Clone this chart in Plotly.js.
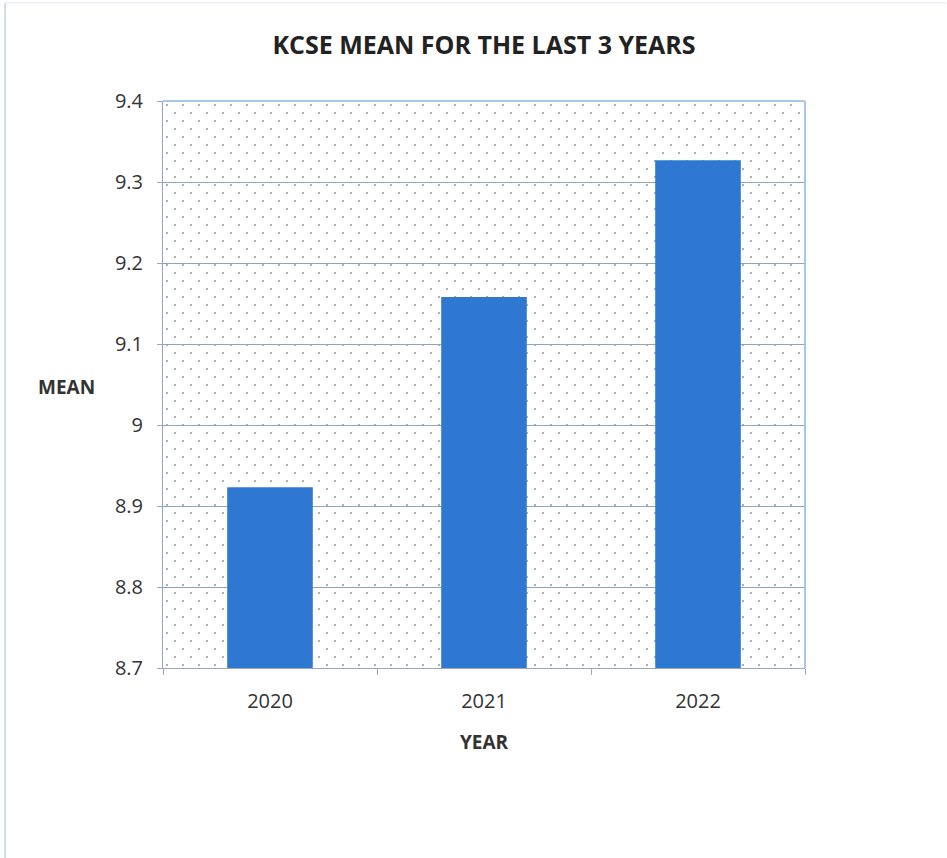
<!DOCTYPE html>
<html>
<head>
<meta charset="utf-8">
<script src="https://cdn.plot.ly/plotly-3.0.1.min.js"></script>
<style>
html,body{margin:0;padding:0;background:#fff;}
#chart{width:947px;height:858px;}
</style>
</head>
<body>
<div id="chart"></div>
<script>
const years = ['2020', '2021', '2022'];
const means = [8.923, 9.158, 9.327];
const yTicks = [8.7, 8.8, 8.9, 9.0, 9.1, 9.2, 9.3, 9.4];
const yTickText = ['8.7', '8.8', '8.9', '9', '9.1', '9.2', '9.3', '9.4'];

const patSvg = '<svg xmlns="http://www.w3.org/2000/svg" width="642" height="567">' +
  '<defs><pattern id="p" width="16" height="16" patternUnits="userSpaceOnUse">' +
  '<circle cx="4" cy="4" r="0.9" fill="#8a8a8a"/>' +
  '<circle cx="12" cy="12" r="0.9" fill="#8a8a8a"/></pattern></defs>' +
  '<rect width="642" height="567" fill="url(#p)"/></svg>';
const patUri = 'data:image/svg+xml;base64,' + btoa(patSvg);

const trace = {
  type: 'bar',
  x: years,
  y: means,
  marker: {color: '#2f78d2', line: {width: 0}},
  hoverinfo: 'x+y'
};

const layout = {
  width: 947,
  height: 858,
  paper_bgcolor: '#ffffff',
  plot_bgcolor: 'rgba(0,0,0,0)',
  margin: {l: 163, r: 142, t: 101, b: 190},
  bargap: 0.6,
  showlegend: false,
  font: {family: 'Open Sans, Liberation Sans, sans-serif', color: '#333333'},
  title: {
    text: '<b>KCSE MEAN FOR THE LAST 3 YEARS</b>',
    font: {size: 25, color: '#222222', family: 'Open Sans, sans-serif'},
    x: 0.5, xanchor: 'center', y: 0.947, yanchor: 'middle', xref: 'paper'
  },
  xaxis: {
    type: 'category',
    tickson: 'boundaries',
    ticks: 'outside',
    ticklen: 6,
    tickcolor: '#9aa8b8',
    showline: true,
    linecolor: '#9aa8b8',
    linewidth: 1,
    showgrid: false,
    tickfont: {size: 20, color: '#333333'},
    ticklabelstandoff: 15,
    title: {text: '<b>YEAR</b>', font: {size: 19, color: '#333333'}, standoff: 22},
    mirror: false
  },
  yaxis: {
    range: [8.7, 9.4],
    tickvals: yTicks,
    ticktext: yTickText,
    ticks: 'outside',
    ticklen: 5,
    tickcolor: '#9aa8b8',
    showline: true,
    linecolor: '#8fa6c4',
    linewidth: 1,
    showgrid: true,
    gridcolor: '#8fa4c2',
    gridwidth: 1,
    zeroline: false,
    ticklabelstandoff: 10,
    tickfont: {size: 20, color: '#333333'}
  },
  shapes: [
    {type: 'line', xref: 'paper', yref: 'paper', x0: 0, x1: 1, y0: 1, y1: 1,
     line: {color: '#a9c8e8', width: 2}},
    {type: 'line', xref: 'paper', yref: 'paper', x0: 1, x1: 1, y0: 0, y1: 1,
     line: {color: '#a9c8e8', width: 2}},
    {type: 'line', xref: 'paper', yref: 'paper', x0: -0.246, x1: -0.246, y0: -0.4, y1: 1.173,
     line: {color: '#c8d0e4', width: 1.5}},
    {type: 'line', xref: 'paper', yref: 'paper', x0: -0.246, x1: 1.22, y0: 1.173, y1: 1.173,
     line: {color: '#e2e6ee', width: 1}}
  ],
  images: [{
    source: patUri,
    xref: 'paper', yref: 'paper',
    x: 0, y: 1, sizex: 1, sizey: 1,
    xanchor: 'left', yanchor: 'top',
    sizing: 'stretch',
    layer: 'below'
  }],
  annotations: [{
    text: '<b>MEAN</b>',
    xref: 'paper', yref: 'paper',
    x: -0.103, y: 0.496,
    xanchor: 'right', yanchor: 'middle',
    showarrow: false,
    font: {size: 19, color: '#333333'}
  }]
};

Plotly.newPlot('chart', [trace], layout, {displayModeBar: false, staticPlot: true});
</script>
</body>
</html>
